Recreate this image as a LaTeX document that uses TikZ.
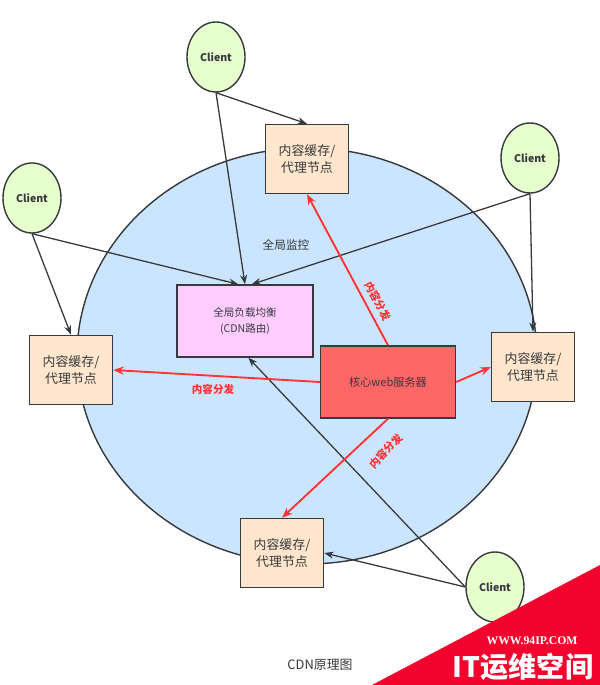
\documentclass[tikz,border=0pt]{standalone}
\usepackage{fontspec}
\setmainfont{Noto Sans CJK SC}
\newfontfamily\wmserif{Liberation Serif}
\usetikzlibrary{positioning, shapes.geometric, arrows.meta}
\definecolor{cdnBlue}{HTML}{CCE5FF}
\definecolor{cdnLine}{HTML}{36393D}
\definecolor{clientGreen}{HTML}{E6FFCC}
\definecolor{cachePeach}{HTML}{FFE6CC}
\definecolor{lbPink}{HTML}{FFCCFF}
\definecolor{coreRed}{HTML}{FF6666}
\definecolor{pushRed}{HTML}{FF3333}
\definecolor{markRed}{HTML}{F2042C}

\begin{document}
\begin{tikzpicture}[x=0.03cm, y=-0.03cm,
  client/.style={ellipse, draw=cdnLine, fill=clientGreen, line width=1.2pt,
    minimum width=1.74cm, minimum height=2.1cm, inner sep=0pt,
    font=\fontsize{9}{11}\selectfont\bfseries, text=cdnLine},
  cache/.style={rectangle, draw=cdnLine, fill=cachePeach, line width=1.2pt,
    minimum width=2.49cm, minimum height=2.07cm, align=center,
    font=\fontsize{11}{15}\selectfont, text=cdnLine},
  req/.style={-{Stealth[length=8pt, width=6pt]}, cdnLine, line width=1.1pt},
  push/.style={-{Stealth[length=9pt, width=7pt]}, pushRed, line width=1.6pt},
  pushlabel/.style={text=pushRed, font=\fontsize{9}{11}\selectfont\bfseries, inner sep=1pt}]
  \useasboundingbox (0,0) rectangle (600,685);

  % CDN network
  \draw[cdnLine, fill=cdnBlue, line width=1.2pt] (307,356) ellipse [x radius=6.9cm, y radius=6.24cm];

  % clients
  \node[client] (c1) at (216,57) {Client};
  \node[client] (c2) at (32,198) {Client};
  \node[client] (c3) at (530,158) {Client};
  \node[client] (c4) at (495,587) {Client};

  % cache / proxy nodes
  \node[cache] (ctop) at (307,159) {内容缓存/\\代理节点};
  \node[cache] (cleft) at (71,370) {内容缓存/\\代理节点};
  \node[cache] (cright) at (533,367) {内容缓存/\\代理节点};
  \node[cache] (cbottom) at (282,553) {内容缓存/\\代理节点};

  \node[draw=cdnLine, fill=lbPink, line width=1.2pt, minimum width=4.08cm, minimum height=2.16cm,
        align=center, text=cdnLine, font=\fontsize{9}{14}\selectfont] (lb) at (245,321)
        {全局负载均衡\\(CDN路由)};
  \node[draw=cdnLine, fill=coreRed, line width=1.2pt, minimum width=4.05cm, minimum height=2.16cm,
        text=cdnLine, font=\fontsize{9.5}{12}\selectfont] (core) at (388,382) {核心web服务器};

  \node[text=cdnLine, font=\fontsize{10}{12}\selectfont] (mon) at (286,245) {全局监控};

  % requests
  \draw[req] (c1.south) -- (ctop.north);
  \draw[req] (c1.south) -- (lb.north);
  \draw[req] (c2.south) -- (cleft.north);
  \draw[req] (c2.south) -- ([xshift=-0.2cm]lb.north);
  \draw[req] (c3.south) -- ([xshift=0.2cm]lb.north);
  \draw[req] (c3.south) -- (cright.north);
  \draw[req] (c4.west) -- ([xshift=0.1cm]lb.south);
  \draw[req] (c4.west) -- (cbottom.east);

  % content push
  \draw[push] (core.north) -- (ctop.south);
  \draw[push] (core.west) -- (cleft.east);
  \draw[push] (core.east) -- (cright.west);
  \draw[push] (core.south) -- (cbottom.north);

  \node[pushlabel, rotate=-63] (l1) at (378,301) {内容分发};
  \node[pushlabel] (l2) at (213,389) {内容分发};
  \node[pushlabel, rotate=47] (l3) at (386,451) {内容分发};

  \node[text=cdnLine, font=\fontsize{11}{13}\selectfont] (title) at (320,665) {CDN原理图};

  % watermark corner
  \fill[markRed] (372,685) -- (600,565) -- (600,685) -- cycle;
  \node[text=white, font=\wmserif\fontsize{10}{12}\selectfont\bfseries] (wmurl) at (532,641) {WWW.94IP.COM};
  \node[text=white, font=\fontsize{24}{26}\selectfont\bfseries] (wmname) at (523,667) {IT运维空间};
\end{tikzpicture}
\end{document}
